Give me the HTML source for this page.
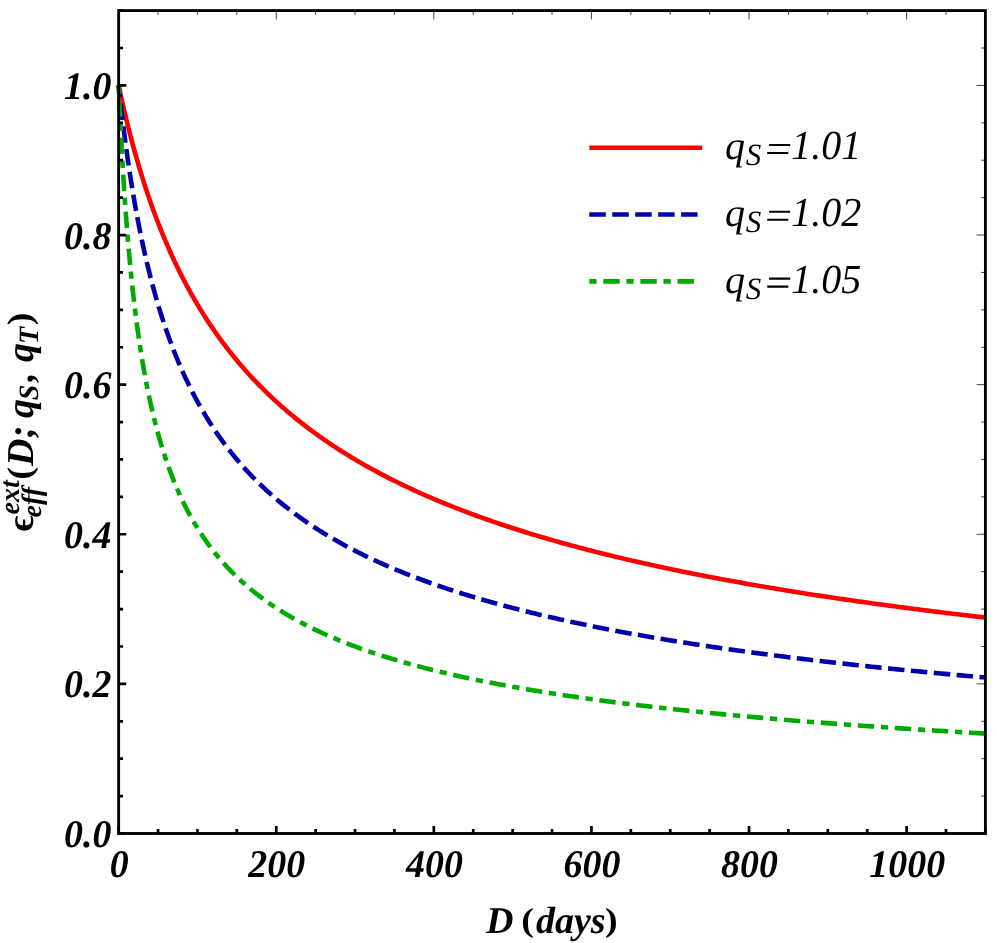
<!DOCTYPE html>
<html><head><meta charset="utf-8"><title>plot</title>
<style>html,body{margin:0;padding:0;background:#fff;overflow:hidden}svg{display:block}text{font-family:"Liberation Serif",serif;fill:#000;text-rendering:geometricPrecision}.bi{font-weight:bold;font-style:italic;font-size:38px}.b{font-weight:bold;font-style:normal;font-size:38px}.s{font-weight:bold;font-style:italic;font-size:28px}.it{font-style:italic;font-size:40px}.its{font-style:italic;font-size:31px}</style></head><body>
<svg width="997" height="943" viewBox="0 0 997 943">
<rect width="997" height="943" fill="#fff"/>
<g fill="none" stroke-width="4.60" stroke-linejoin="round">
<path d="M118.65 85.41 L118.65 85.43 L118.66 85.47 L118.68 85.56 L118.71 85.67 L118.74 85.82 L118.77 86.00 L118.82 86.21 L118.87 86.46 L118.93 86.74 L119.00 87.05 L119.07 87.39 L119.15 87.77 L119.24 88.18 L119.33 88.61 L119.43 89.08 L119.54 89.59 L119.65 90.12 L119.77 90.69 L119.90 91.28 L120.04 91.91 L120.18 92.56 L120.33 93.25 L120.48 93.97 L120.65 94.71 L120.82 95.49 L120.99 96.29 L121.18 97.13 L121.37 97.99 L121.57 98.88 L121.77 99.80 L121.98 100.74 L122.20 101.71 L122.43 102.71 L122.66 103.74 L122.90 104.79 L123.14 105.87 L123.40 106.97 L123.66 108.10 L123.92 109.25 L124.20 110.43 L124.48 111.63 L124.77 112.85 L125.06 114.10 L125.36 115.37 L125.67 116.66 L125.99 117.98 L126.31 119.31 L126.64 120.67 L126.97 122.05 L127.32 123.44 L127.67 124.86 L128.02 126.30 L128.39 127.75 L128.76 129.23 L129.14 130.72 L129.52 132.23 L129.91 133.76 L130.31 135.30 L130.72 136.86 L131.13 138.44 L131.55 140.03 L131.98 141.63 L132.41 143.26 L132.85 144.89 L133.30 146.54 L133.75 148.21 L134.21 149.88 L134.68 151.57 L135.16 153.27 L135.64 154.99 L136.13 156.71 L136.62 158.45 L137.13 160.19 L137.64 161.95 L138.15 163.72 L138.68 165.49 L139.21 167.28 L139.74 169.07 L140.29 170.88 L140.84 172.69 L141.40 174.51 L141.96 176.33 L142.53 178.17 L143.11 180.01 L143.70 181.85 L144.29 183.70 L144.89 185.56 L145.50 187.43 L146.11 189.29 L146.73 191.17 L147.36 193.04 L147.99 194.93 L148.64 196.81 L149.28 198.70 L149.94 200.59 L150.60 202.49 L151.27 204.38 L151.95 206.28 L152.63 208.19 L153.32 210.09 L154.02 212.00 L154.72 213.90 L155.43 215.81 L156.15 217.72 L156.87 219.63 L157.61 221.54 L158.34 223.45 L159.09 225.36 L159.84 227.27 L160.60 229.18 L161.37 231.09 L162.14 232.99 L162.92 234.90 L163.71 236.80 L164.50 238.71 L165.30 240.61 L166.11 242.51 L166.92 244.41 L167.75 246.30 L168.57 248.20 L169.41 250.09 L170.25 251.97 L171.10 253.86 L171.96 255.74 L172.82 257.62 L173.69 259.49 L174.57 261.37 L175.45 263.23 L176.34 265.10 L177.24 266.96 L178.15 268.82 L179.06 270.67 L179.98 272.52 L180.90 274.36 L181.84 276.20 L182.78 278.03 L183.72 279.87 L184.68 281.69 L185.64 283.51 L186.60 285.33 L187.58 287.14 L188.56 288.94 L189.55 290.74 L190.54 292.54 L191.54 294.33 L192.55 296.11 L193.57 297.89 L194.59 299.66 L195.62 301.43 L196.66 303.19 L197.70 304.95 L198.75 306.70 L199.81 308.44 L200.87 310.18 L201.94 311.91 L203.02 313.64 L204.11 315.36 L205.20 317.07 L206.30 318.78 L207.41 320.48 L208.52 322.18 L209.64 323.87 L210.76 325.55 L211.90 327.23 L213.04 328.90 L214.19 330.56 L215.34 332.22 L216.50 333.87 L217.67 335.51 L218.85 337.15 L220.03 338.78 L221.22 340.41 L222.41 342.02 L223.62 343.63 L224.83 345.24 L226.04 346.84 L227.27 348.43 L228.50 350.01 L229.74 351.59 L230.98 353.16 L232.23 354.73 L233.49 356.29 L234.76 357.84 L236.03 359.38 L237.31 360.92 L238.59 362.45 L239.89 363.98 L241.19 365.50 L242.49 367.01 L243.81 368.52 L245.13 370.01 L246.46 371.51 L247.79 372.99 L249.13 374.47 L250.48 375.94 L251.84 377.41 L253.20 378.87 L254.57 380.32 L255.95 381.76 L257.33 383.20 L258.72 384.63 L260.12 386.06 L261.52 387.48 L262.93 388.89 L264.35 390.30 L265.78 391.70 L267.21 393.09 L268.65 394.48 L270.09 395.86 L271.54 397.23 L273.00 398.60 L274.47 399.96 L275.94 401.32 L277.42 402.67 L278.91 404.01 L280.41 405.35 L281.91 406.68 L283.42 408.00 L284.93 409.32 L286.45 410.63 L287.98 411.93 L289.52 413.23 L291.06 414.52 L292.61 415.81 L294.17 417.09 L295.73 418.36 L297.30 419.63 L298.88 420.89 L300.46 422.15 L302.05 423.40 L303.65 424.65 L305.26 425.88 L306.87 427.12 L308.49 428.34 L310.12 429.56 L311.75 430.78 L313.39 431.99 L315.03 433.19 L316.69 434.39 L318.35 435.58 L320.02 436.77 L321.69 437.95 L323.37 439.12 L325.06 440.29 L326.76 441.45 L328.46 442.61 L330.17 443.76 L331.88 444.91 L333.61 446.05 L335.34 447.19 L337.07 448.32 L338.82 449.44 L340.57 450.56 L342.33 451.68 L344.09 452.79 L345.86 453.89 L347.64 454.99 L349.43 456.08 L351.22 457.17 L353.02 458.25 L354.83 459.33 L356.64 460.40 L358.46 461.47 L360.29 462.53 L362.12 463.59 L363.96 464.64 L365.81 465.69 L367.66 466.73 L369.53 467.77 L371.39 468.80 L373.27 469.83 L375.15 470.85 L377.04 471.87 L378.94 472.88 L380.84 473.89 L382.75 474.89 L384.67 475.89 L386.59 476.88 L388.52 477.87 L390.46 478.85 L392.41 479.83 L394.36 480.81 L396.32 481.78 L398.28 482.75 L400.26 483.71 L402.24 484.66 L404.22 485.62 L406.22 486.56 L408.22 487.51 L410.22 488.45 L412.24 489.38 L414.26 490.31 L416.29 491.24 L418.32 492.16 L420.37 493.08 L422.41 493.99 L424.47 494.90 L426.53 495.80 L428.60 496.70 L430.68 497.60 L432.76 498.49 L434.85 499.38 L436.95 500.26 L439.06 501.14 L441.17 502.02 L443.29 502.89 L445.41 503.75 L447.54 504.62 L449.68 505.48 L451.83 506.33 L453.98 507.18 L456.14 508.03 L458.31 508.88 L460.48 509.72 L462.66 510.55 L464.85 511.38 L467.05 512.21 L469.25 513.04 L471.46 513.86 L473.67 514.68 L475.89 515.49 L478.12 516.30 L480.36 517.10 L482.60 517.91 L484.85 518.71 L487.11 519.50 L489.37 520.29 L491.64 521.08 L493.92 521.87 L496.21 522.65 L498.50 523.42 L500.80 524.20 L503.10 524.97 L505.41 525.74 L507.73 526.50 L510.06 527.26 L512.39 528.02 L514.73 528.77 L517.08 529.52 L519.44 530.27 L521.80 531.01 L524.16 531.75 L526.54 532.49 L528.92 533.22 L531.31 533.95 L533.71 534.68 L536.11 535.41 L538.52 536.13 L540.93 536.85 L543.36 537.56 L545.79 538.27 L548.23 538.98 L550.67 539.69 L553.12 540.39 L555.58 541.09 L558.04 541.78 L560.52 542.48 L562.99 543.17 L565.48 543.85 L567.97 544.54 L570.47 545.22 L572.98 545.90 L575.49 546.57 L578.01 547.25 L580.54 547.92 L583.08 548.58 L585.62 549.25 L588.17 549.91 L590.72 550.57 L593.28 551.22 L595.85 551.88 L598.43 552.53 L601.01 553.17 L603.60 553.82 L606.20 554.46 L608.80 555.10 L611.41 555.74 L614.03 556.37 L616.65 557.00 L619.28 557.63 L621.92 558.26 L624.57 558.88 L627.22 559.50 L629.88 560.12 L632.55 560.73 L635.22 561.35 L637.90 561.96 L640.59 562.57 L643.28 563.17 L645.98 563.77 L648.69 564.37 L651.40 564.97 L654.12 565.57 L656.85 566.16 L659.59 566.75 L662.33 567.34 L665.08 567.93 L667.84 568.51 L670.60 569.09 L673.37 569.67 L676.15 570.25 L678.93 570.82 L681.72 571.39 L684.52 571.96 L687.32 572.53 L690.14 573.09 L692.96 573.65 L695.78 574.21 L698.61 574.77 L701.45 575.33 L704.30 575.88 L707.15 576.43 L710.01 576.98 L712.88 577.53 L715.75 578.07 L718.64 578.62 L721.52 579.16 L724.42 579.70 L727.32 580.23 L730.23 580.77 L733.14 581.30 L736.07 581.83 L739.00 582.36 L741.93 582.88 L744.88 583.41 L747.83 583.93 L750.78 584.45 L753.75 584.96 L756.72 585.48 L759.70 585.99 L762.68 586.51 L765.68 587.02 L768.67 587.52 L771.68 588.03 L774.69 588.53 L777.71 589.03 L780.74 589.53 L783.77 590.03 L786.81 590.53 L789.86 591.02 L792.92 591.51 L795.98 592.00 L799.05 592.49 L802.12 592.98 L805.20 593.46 L808.29 593.95 L811.39 594.43 L814.49 594.91 L817.60 595.39 L820.72 595.86 L823.84 596.33 L826.97 596.81 L830.11 597.28 L833.25 597.75 L836.41 598.21 L839.56 598.68 L842.73 599.14 L845.90 599.60 L849.08 600.06 L852.27 600.52 L855.46 600.98 L858.66 601.43 L861.87 601.89 L865.08 602.34 L868.30 602.79 L871.53 603.23 L874.76 603.68 L878.01 604.13 L881.25 604.57 L884.51 605.01 L887.77 605.45 L891.04 605.89 L894.32 606.33 L897.60 606.76 L900.89 607.20 L904.19 607.63 L907.49 608.06 L910.80 608.49 L914.12 608.91 L917.45 609.34 L920.78 609.76 L924.12 610.19 L927.46 610.61 L930.82 611.03 L934.18 611.45 L937.54 611.86 L940.91 612.28 L944.30 612.69 L947.68 613.10 L951.08 613.52 L954.48 613.92 L957.89 614.33 L961.30 614.74 L964.72 615.14 L968.15 615.55 L971.59 615.95 L975.03 616.35 L978.48 616.75 L981.94 617.15 L985.40 617.54" stroke="#ff0000"/>
<path d="M118.65 85.41 L118.65 85.44 L118.66 85.54 L118.68 85.71 L118.71 85.94 L118.74 86.23 L118.77 86.59 L118.82 87.02 L118.87 87.51 L118.93 88.06 L119.00 88.68 L119.07 89.36 L119.15 90.10 L119.24 90.91 L119.33 91.78 L119.43 92.71 L119.54 93.70 L119.65 94.74 L119.77 95.85 L119.90 97.02 L120.04 98.24 L120.18 99.52 L120.33 100.85 L120.48 102.24 L120.65 103.68 L120.82 105.17 L120.99 106.71 L121.18 108.31 L121.37 109.95 L121.57 111.64 L121.77 113.38 L121.98 115.17 L122.20 117.00 L122.43 118.87 L122.66 120.78 L122.90 122.74 L123.14 124.73 L123.40 126.77 L123.66 128.84 L123.92 130.95 L124.20 133.09 L124.48 135.27 L124.77 137.48 L125.06 139.73 L125.36 142.00 L125.67 144.30 L125.99 146.63 L126.31 148.99 L126.64 151.37 L126.97 153.78 L127.32 156.21 L127.67 158.66 L128.02 161.14 L128.39 163.63 L128.76 166.15 L129.14 168.68 L129.52 171.23 L129.91 173.80 L130.31 176.38 L130.72 178.97 L131.13 181.58 L131.55 184.20 L131.98 186.83 L132.41 189.47 L132.85 192.12 L133.30 194.78 L133.75 197.45 L134.21 200.12 L134.68 202.80 L135.16 205.49 L135.64 208.18 L136.13 210.87 L136.62 213.57 L137.13 216.26 L137.64 218.96 L138.15 221.67 L138.68 224.37 L139.21 227.07 L139.74 229.77 L140.29 232.47 L140.84 235.16 L141.40 237.85 L141.96 240.54 L142.53 243.23 L143.11 245.91 L143.70 248.59 L144.29 251.26 L144.89 253.93 L145.50 256.59 L146.11 259.24 L146.73 261.89 L147.36 264.53 L147.99 267.16 L148.64 269.78 L149.28 272.40 L149.94 275.01 L150.60 277.60 L151.27 280.19 L151.95 282.77 L152.63 285.34 L153.32 287.90 L154.02 290.45 L154.72 292.99 L155.43 295.51 L156.15 298.03 L156.87 300.53 L157.61 303.03 L158.34 305.51 L159.09 307.98 L159.84 310.44 L160.60 312.89 L161.37 315.32 L162.14 317.74 L162.92 320.15 L163.71 322.55 L164.50 324.94 L165.30 327.31 L166.11 329.67 L166.92 332.01 L167.75 334.35 L168.57 336.67 L169.41 338.98 L170.25 341.27 L171.10 343.55 L171.96 345.82 L172.82 348.07 L173.69 350.32 L174.57 352.54 L175.45 354.76 L176.34 356.96 L177.24 359.15 L178.15 361.33 L179.06 363.49 L179.98 365.64 L180.90 367.77 L181.84 369.89 L182.78 372.00 L183.72 374.10 L184.68 376.18 L185.64 378.25 L186.60 380.30 L187.58 382.35 L188.56 384.37 L189.55 386.39 L190.54 388.39 L191.54 390.38 L192.55 392.36 L193.57 394.33 L194.59 396.28 L195.62 398.22 L196.66 400.14 L197.70 402.06 L198.75 403.96 L199.81 405.84 L200.87 407.72 L201.94 409.58 L203.02 411.43 L204.11 413.27 L205.20 415.10 L206.30 416.91 L207.41 418.71 L208.52 420.50 L209.64 422.28 L210.76 424.04 L211.90 425.80 L213.04 427.54 L214.19 429.27 L215.34 430.99 L216.50 432.69 L217.67 434.39 L218.85 436.07 L220.03 437.75 L221.22 439.41 L222.41 441.06 L223.62 442.70 L224.83 444.32 L226.04 445.94 L227.27 447.55 L228.50 449.14 L229.74 450.72 L230.98 452.30 L232.23 453.86 L233.49 455.41 L234.76 456.95 L236.03 458.48 L237.31 460.01 L238.59 461.52 L239.89 463.02 L241.19 464.51 L242.49 465.99 L243.81 467.46 L245.13 468.92 L246.46 470.37 L247.79 471.81 L249.13 473.24 L250.48 474.66 L251.84 476.07 L253.20 477.48 L254.57 478.87 L255.95 480.25 L257.33 481.63 L258.72 482.99 L260.12 484.35 L261.52 485.70 L262.93 487.04 L264.35 488.37 L265.78 489.69 L267.21 491.00 L268.65 492.30 L270.09 493.60 L271.54 494.88 L273.00 496.16 L274.47 497.43 L275.94 498.69 L277.42 499.94 L278.91 501.19 L280.41 502.43 L281.91 503.65 L283.42 504.87 L284.93 506.09 L286.45 507.29 L287.98 508.49 L289.52 509.68 L291.06 510.86 L292.61 512.03 L294.17 513.20 L295.73 514.36 L297.30 515.51 L298.88 516.65 L300.46 517.79 L302.05 518.92 L303.65 520.04 L305.26 521.16 L306.87 522.27 L308.49 523.37 L310.12 524.46 L311.75 525.55 L313.39 526.63 L315.03 527.70 L316.69 528.77 L318.35 529.83 L320.02 530.88 L321.69 531.93 L323.37 532.97 L325.06 534.00 L326.76 535.03 L328.46 536.05 L330.17 537.07 L331.88 538.08 L333.61 539.08 L335.34 540.07 L337.07 541.06 L338.82 542.05 L340.57 543.03 L342.33 544.00 L344.09 544.96 L345.86 545.93 L347.64 546.88 L349.43 547.83 L351.22 548.77 L353.02 549.71 L354.83 550.64 L356.64 551.57 L358.46 552.49 L360.29 553.40 L362.12 554.31 L363.96 555.22 L365.81 556.11 L367.66 557.01 L369.53 557.90 L371.39 558.78 L373.27 559.66 L375.15 560.53 L377.04 561.40 L378.94 562.26 L380.84 563.12 L382.75 563.97 L384.67 564.82 L386.59 565.66 L388.52 566.50 L390.46 567.33 L392.41 568.16 L394.36 568.98 L396.32 569.80 L398.28 570.61 L400.26 571.42 L402.24 572.22 L404.22 573.02 L406.22 573.82 L408.22 574.61 L410.22 575.40 L412.24 576.18 L414.26 576.96 L416.29 577.73 L418.32 578.50 L420.37 579.26 L422.41 580.02 L424.47 580.78 L426.53 581.53 L428.60 582.28 L430.68 583.02 L432.76 583.76 L434.85 584.50 L436.95 585.23 L439.06 585.95 L441.17 586.68 L443.29 587.40 L445.41 588.11 L447.54 588.82 L449.68 589.53 L451.83 590.23 L453.98 590.93 L456.14 591.63 L458.31 592.32 L460.48 593.01 L462.66 593.70 L464.85 594.38 L467.05 595.05 L469.25 595.73 L471.46 596.40 L473.67 597.07 L475.89 597.73 L478.12 598.39 L480.36 599.04 L482.60 599.70 L484.85 600.35 L487.11 600.99 L489.37 601.64 L491.64 602.27 L493.92 602.91 L496.21 603.54 L498.50 604.17 L500.80 604.80 L503.10 605.42 L505.41 606.04 L507.73 606.66 L510.06 607.27 L512.39 607.88 L514.73 608.49 L517.08 609.09 L519.44 609.69 L521.80 610.29 L524.16 610.89 L526.54 611.48 L528.92 612.07 L531.31 612.65 L533.71 613.24 L536.11 613.81 L538.52 614.39 L540.93 614.97 L543.36 615.54 L545.79 616.11 L548.23 616.67 L550.67 617.23 L553.12 617.79 L555.58 618.35 L558.04 618.91 L560.52 619.46 L562.99 620.01 L565.48 620.55 L567.97 621.10 L570.47 621.64 L572.98 622.18 L575.49 622.71 L578.01 623.25 L580.54 623.78 L583.08 624.31 L585.62 624.83 L588.17 625.35 L590.72 625.87 L593.28 626.39 L595.85 626.91 L598.43 627.42 L601.01 627.93 L603.60 628.44 L606.20 628.95 L608.80 629.45 L611.41 629.95 L614.03 630.45 L616.65 630.95 L619.28 631.44 L621.92 631.93 L624.57 632.42 L627.22 632.91 L629.88 633.39 L632.55 633.88 L635.22 634.36 L637.90 634.84 L640.59 635.31 L643.28 635.78 L645.98 636.26 L648.69 636.73 L651.40 637.19 L654.12 637.66 L656.85 638.12 L659.59 638.58 L662.33 639.04 L665.08 639.50 L667.84 639.95 L670.60 640.41 L673.37 640.86 L676.15 641.31 L678.93 641.75 L681.72 642.20 L684.52 642.64 L687.32 643.08 L690.14 643.52 L692.96 643.96 L695.78 644.39 L698.61 644.82 L701.45 645.25 L704.30 645.68 L707.15 646.11 L710.01 646.54 L712.88 646.96 L715.75 647.38 L718.64 647.80 L721.52 648.22 L724.42 648.64 L727.32 649.05 L730.23 649.46 L733.14 649.87 L736.07 650.28 L739.00 650.69 L741.93 651.09 L744.88 651.50 L747.83 651.90 L750.78 652.30 L753.75 652.70 L756.72 653.10 L759.70 653.49 L762.68 653.89 L765.68 654.28 L768.67 654.67 L771.68 655.06 L774.69 655.44 L777.71 655.83 L780.74 656.21 L783.77 656.59 L786.81 656.97 L789.86 657.35 L792.92 657.73 L795.98 658.11 L799.05 658.48 L802.12 658.85 L805.20 659.22 L808.29 659.59 L811.39 659.96 L814.49 660.33 L817.60 660.69 L820.72 661.06 L823.84 661.42 L826.97 661.78 L830.11 662.14 L833.25 662.50 L836.41 662.85 L839.56 663.21 L842.73 663.56 L845.90 663.91 L849.08 664.26 L852.27 664.61 L855.46 664.96 L858.66 665.31 L861.87 665.65 L865.08 666.00 L868.30 666.34 L871.53 666.68 L874.76 667.02 L878.01 667.36 L881.25 667.69 L884.51 668.03 L887.77 668.36 L891.04 668.70 L894.32 669.03 L897.60 669.36 L900.89 669.69 L904.19 670.01 L907.49 670.34 L910.80 670.67 L914.12 670.99 L917.45 671.31 L920.78 671.63 L924.12 671.95 L927.46 672.27 L930.82 672.59 L934.18 672.91 L937.54 673.22 L940.91 673.54 L944.30 673.85 L947.68 674.16 L951.08 674.47 L954.48 674.78 L957.89 675.09 L961.30 675.40 L964.72 675.70 L968.15 676.01 L971.59 676.31 L975.03 676.61 L978.48 676.91 L981.94 677.21 L985.40 677.51" stroke="#0000aa" stroke-dasharray="16.5 6.45" stroke-dashoffset="4.63"/>
<path d="M118.65 85.41 L118.65 85.49 L118.66 85.74 L118.68 86.15 L118.71 86.72 L118.74 87.46 L118.77 88.35 L118.82 89.41 L118.87 90.62 L118.93 91.99 L119.00 93.50 L119.07 95.17 L119.15 96.98 L119.24 98.94 L119.33 101.03 L119.43 103.26 L119.54 105.63 L119.65 108.11 L119.77 110.73 L119.90 113.46 L120.04 116.30 L120.18 119.26 L120.33 122.31 L120.48 125.48 L120.65 128.73 L120.82 132.08 L120.99 135.51 L121.18 139.03 L121.37 142.62 L121.57 146.29 L121.77 150.02 L121.98 153.82 L122.20 157.67 L122.43 161.58 L122.66 165.54 L122.90 169.55 L123.14 173.59 L123.40 177.68 L123.66 181.80 L123.92 185.95 L124.20 190.12 L124.48 194.32 L124.77 198.54 L125.06 202.77 L125.36 207.02 L125.67 211.28 L125.99 215.54 L126.31 219.81 L126.64 224.08 L126.97 228.35 L127.32 232.62 L127.67 236.88 L128.02 241.13 L128.39 245.38 L128.76 249.61 L129.14 253.83 L129.52 258.03 L129.91 262.22 L130.31 266.39 L130.72 270.54 L131.13 274.66 L131.55 278.77 L131.98 282.85 L132.41 286.91 L132.85 290.94 L133.30 294.94 L133.75 298.92 L134.21 302.87 L134.68 306.79 L135.16 310.68 L135.64 314.54 L136.13 318.37 L136.62 322.17 L137.13 325.94 L137.64 329.68 L138.15 333.38 L138.68 337.05 L139.21 340.69 L139.74 344.30 L140.29 347.87 L140.84 351.41 L141.40 354.92 L141.96 358.39 L142.53 361.83 L143.11 365.24 L143.70 368.61 L144.29 371.95 L144.89 375.26 L145.50 378.54 L146.11 381.78 L146.73 384.99 L147.36 388.16 L147.99 391.31 L148.64 394.42 L149.28 397.50 L149.94 400.54 L150.60 403.56 L151.27 406.54 L151.95 409.49 L152.63 412.41 L153.32 415.30 L154.02 418.16 L154.72 420.99 L155.43 423.79 L156.15 426.56 L156.87 429.30 L157.61 432.01 L158.34 434.70 L159.09 437.35 L159.84 439.98 L160.60 442.57 L161.37 445.14 L162.14 447.69 L162.92 450.20 L163.71 452.69 L164.50 455.15 L165.30 457.59 L166.11 459.99 L166.92 462.38 L167.75 464.74 L168.57 467.07 L169.41 469.38 L170.25 471.66 L171.10 473.92 L171.96 476.16 L172.82 478.37 L173.69 480.56 L174.57 482.73 L175.45 484.87 L176.34 486.99 L177.24 489.09 L178.15 491.17 L179.06 493.22 L179.98 495.26 L180.90 497.27 L181.84 499.26 L182.78 501.23 L183.72 503.18 L184.68 505.11 L185.64 507.03 L186.60 508.92 L187.58 510.79 L188.56 512.64 L189.55 514.48 L190.54 516.29 L191.54 518.09 L192.55 519.87 L193.57 521.63 L194.59 523.38 L195.62 525.10 L196.66 526.81 L197.70 528.51 L198.75 530.18 L199.81 531.84 L200.87 533.48 L201.94 535.11 L203.02 536.72 L204.11 538.32 L205.20 539.90 L206.30 541.46 L207.41 543.01 L208.52 544.54 L209.64 546.06 L210.76 547.57 L211.90 549.06 L213.04 550.54 L214.19 552.00 L215.34 553.45 L216.50 554.88 L217.67 556.30 L218.85 557.71 L220.03 559.11 L221.22 560.49 L222.41 561.86 L223.62 563.22 L224.83 564.56 L226.04 565.89 L227.27 567.21 L228.50 568.52 L229.74 569.82 L230.98 571.10 L232.23 572.37 L233.49 573.63 L234.76 574.88 L236.03 576.12 L237.31 577.35 L238.59 578.57 L239.89 579.77 L241.19 580.97 L242.49 582.15 L243.81 583.33 L245.13 584.49 L246.46 585.65 L247.79 586.79 L249.13 587.93 L250.48 589.05 L251.84 590.17 L253.20 591.27 L254.57 592.37 L255.95 593.45 L257.33 594.53 L258.72 595.60 L260.12 596.66 L261.52 597.71 L262.93 598.75 L264.35 599.78 L265.78 600.81 L267.21 601.82 L268.65 602.83 L270.09 603.83 L271.54 604.82 L273.00 605.81 L274.47 606.78 L275.94 607.75 L277.42 608.71 L278.91 609.66 L280.41 610.60 L281.91 611.54 L283.42 612.47 L284.93 613.39 L286.45 614.31 L287.98 615.21 L289.52 616.11 L291.06 617.01 L292.61 617.89 L294.17 618.77 L295.73 619.64 L297.30 620.51 L298.88 621.37 L300.46 622.22 L302.05 623.07 L303.65 623.91 L305.26 624.74 L306.87 625.57 L308.49 626.39 L310.12 627.20 L311.75 628.01 L313.39 628.81 L315.03 629.61 L316.69 630.40 L318.35 631.18 L320.02 631.96 L321.69 632.73 L323.37 633.50 L325.06 634.26 L326.76 635.02 L328.46 635.77 L330.17 636.51 L331.88 637.25 L333.61 637.98 L335.34 638.71 L337.07 639.44 L338.82 640.16 L340.57 640.87 L342.33 641.58 L344.09 642.28 L345.86 642.98 L347.64 643.67 L349.43 644.36 L351.22 645.05 L353.02 645.72 L354.83 646.40 L356.64 647.07 L358.46 647.73 L360.29 648.39 L362.12 649.05 L363.96 649.70 L365.81 650.35 L367.66 650.99 L369.53 651.63 L371.39 652.26 L373.27 652.89 L375.15 653.52 L377.04 654.14 L378.94 654.76 L380.84 655.37 L382.75 655.98 L384.67 656.58 L386.59 657.19 L388.52 657.78 L390.46 658.38 L392.41 658.96 L394.36 659.55 L396.32 660.13 L398.28 660.71 L400.26 661.28 L402.24 661.85 L404.22 662.42 L406.22 662.98 L408.22 663.54 L410.22 664.10 L412.24 664.65 L414.26 665.20 L416.29 665.75 L418.32 666.29 L420.37 666.83 L422.41 667.36 L424.47 667.89 L426.53 668.42 L428.60 668.95 L430.68 669.47 L432.76 669.99 L434.85 670.50 L436.95 671.02 L439.06 671.53 L441.17 672.03 L443.29 672.54 L445.41 673.04 L447.54 673.53 L449.68 674.03 L451.83 674.52 L453.98 675.01 L456.14 675.49 L458.31 675.97 L460.48 676.45 L462.66 676.93 L464.85 677.40 L467.05 677.88 L469.25 678.34 L471.46 678.81 L473.67 679.27 L475.89 679.73 L478.12 680.19 L480.36 680.64 L482.60 681.10 L484.85 681.55 L487.11 681.99 L489.37 682.44 L491.64 682.88 L493.92 683.32 L496.21 683.76 L498.50 684.19 L500.80 684.62 L503.10 685.05 L505.41 685.48 L507.73 685.90 L510.06 686.33 L512.39 686.75 L514.73 687.16 L517.08 687.58 L519.44 687.99 L521.80 688.40 L524.16 688.81 L526.54 689.22 L528.92 689.62 L531.31 690.02 L533.71 690.42 L536.11 690.82 L538.52 691.21 L540.93 691.61 L543.36 692.00 L545.79 692.39 L548.23 692.77 L550.67 693.16 L553.12 693.54 L555.58 693.92 L558.04 694.30 L560.52 694.68 L562.99 695.05 L565.48 695.42 L567.97 695.79 L570.47 696.16 L572.98 696.53 L575.49 696.89 L578.01 697.26 L580.54 697.62 L583.08 697.98 L585.62 698.33 L588.17 698.69 L590.72 699.04 L593.28 699.39 L595.85 699.74 L598.43 700.09 L601.01 700.44 L603.60 700.78 L606.20 701.13 L608.80 701.47 L611.41 701.81 L614.03 702.14 L616.65 702.48 L619.28 702.81 L621.92 703.15 L624.57 703.48 L627.22 703.81 L629.88 704.13 L632.55 704.46 L635.22 704.78 L637.90 705.11 L640.59 705.43 L643.28 705.75 L645.98 706.07 L648.69 706.38 L651.40 706.70 L654.12 707.01 L656.85 707.32 L659.59 707.63 L662.33 707.94 L665.08 708.25 L667.84 708.56 L670.60 708.86 L673.37 709.16 L676.15 709.46 L678.93 709.76 L681.72 710.06 L684.52 710.36 L687.32 710.66 L690.14 710.95 L692.96 711.24 L695.78 711.54 L698.61 711.83 L701.45 712.11 L704.30 712.40 L707.15 712.69 L710.01 712.97 L712.88 713.26 L715.75 713.54 L718.64 713.82 L721.52 714.10 L724.42 714.38 L727.32 714.66 L730.23 714.93 L733.14 715.21 L736.07 715.48 L739.00 715.75 L741.93 716.02 L744.88 716.29 L747.83 716.56 L750.78 716.83 L753.75 717.09 L756.72 717.36 L759.70 717.62 L762.68 717.88 L765.68 718.15 L768.67 718.41 L771.68 718.66 L774.69 718.92 L777.71 719.18 L780.74 719.43 L783.77 719.69 L786.81 719.94 L789.86 720.19 L792.92 720.45 L795.98 720.70 L799.05 720.94 L802.12 721.19 L805.20 721.44 L808.29 721.68 L811.39 721.93 L814.49 722.17 L817.60 722.42 L820.72 722.66 L823.84 722.90 L826.97 723.14 L830.11 723.37 L833.25 723.61 L836.41 723.85 L839.56 724.08 L842.73 724.32 L845.90 724.55 L849.08 724.78 L852.27 725.01 L855.46 725.25 L858.66 725.47 L861.87 725.70 L865.08 725.93 L868.30 726.16 L871.53 726.38 L874.76 726.61 L878.01 726.83 L881.25 727.05 L884.51 727.28 L887.77 727.50 L891.04 727.72 L894.32 727.94 L897.60 728.15 L900.89 728.37 L904.19 728.59 L907.49 728.80 L910.80 729.02 L914.12 729.23 L917.45 729.45 L920.78 729.66 L924.12 729.87 L927.46 730.08 L930.82 730.29 L934.18 730.50 L937.54 730.71 L940.91 730.91 L944.30 731.12 L947.68 731.32 L951.08 731.53 L954.48 731.73 L957.89 731.94 L961.30 732.14 L964.72 732.34 L968.15 732.54 L971.59 732.74 L975.03 732.94 L978.48 733.14 L981.94 733.34 L985.40 733.53" stroke="#00aa00" stroke-dasharray="7.3 6.7 16.4 6.7" stroke-dashoffset="36.00"/>
</g>
<path d="M118.65 833.50V825.90M158.05 833.50V829.10M197.45 833.50V829.10M236.84 833.50V829.10M276.24 833.50V825.90M315.64 833.50V829.10M355.04 833.50V829.10M394.43 833.50V829.10M433.83 833.50V825.90M473.23 833.50V829.10M512.63 833.50V829.10M552.02 833.50V829.10M591.42 833.50V825.90M630.82 833.50V829.10M670.22 833.50V829.10M709.62 833.50V829.10M749.01 833.50V825.90M788.41 833.50V829.10M827.81 833.50V829.10M867.21 833.50V829.10M906.60 833.50V825.90M946.00 833.50V829.10M985.40 833.50V829.10M118.65 833.50H126.25M118.65 796.10H123.05M118.65 758.69H123.05M118.65 721.29H123.05M118.65 683.88H126.25M118.65 646.48H123.05M118.65 609.07H123.05M118.65 571.67H123.05M118.65 534.26H126.25M118.65 496.86H123.05M118.65 459.45H123.05M118.65 422.05H123.05M118.65 384.65H126.25M118.65 347.24H123.05M118.65 309.84H123.05M118.65 272.43H123.05M118.65 235.03H126.25M118.65 197.62H123.05M118.65 160.22H123.05M118.65 122.81H123.05M118.65 85.41H126.25M118.65 48.00H123.05M118.65 10.60H123.05" stroke="#000" stroke-width="2.70" fill="none"/>
<path d="M118.65 10.60V19.40M158.05 10.60V14.80M197.45 10.60V14.80M236.84 10.60V14.80M276.24 10.60V19.40M315.64 10.60V14.80M355.04 10.60V14.80M394.43 10.60V14.80M433.83 10.60V19.40M473.23 10.60V14.80M512.63 10.60V14.80M552.02 10.60V14.80M591.42 10.60V19.40M630.82 10.60V14.80M670.22 10.60V14.80M709.62 10.60V14.80M749.01 10.60V19.40M788.41 10.60V14.80M827.81 10.60V14.80M867.21 10.60V14.80M906.60 10.60V19.40M946.00 10.60V14.80M985.40 10.60V14.80M985.40 833.50H976.60M985.40 796.10H981.20M985.40 758.69H981.20M985.40 721.29H981.20M985.40 683.88H976.60M985.40 646.48H981.20M985.40 609.07H981.20M985.40 571.67H981.20M985.40 534.26H976.60M985.40 496.86H981.20M985.40 459.45H981.20M985.40 422.05H981.20M985.40 384.65H976.60M985.40 347.24H981.20M985.40 309.84H981.20M985.40 272.43H981.20M985.40 235.03H976.60M985.40 197.62H981.20M985.40 160.22H981.20M985.40 122.81H981.20M985.40 85.41H976.60M985.40 48.00H981.20M985.40 10.60H981.20" stroke="#000" stroke-width="0.75" fill="none"/>
<rect x="118.65" y="10.60" width="866.75" height="822.90" fill="none" stroke="#000" stroke-width="2.85"/>
<g opacity="0.999">
<text class="bi" transform="translate(119.25,876.60) scale(1,1.030)" text-anchor="middle">0</text>
<text class="bi" transform="translate(276.84,876.60) scale(1,1.030)" text-anchor="middle">200</text>
<text class="bi" transform="translate(434.43,876.60) scale(1,1.030)" text-anchor="middle">400</text>
<text class="bi" transform="translate(592.02,876.60) scale(1,1.030)" text-anchor="middle">600</text>
<text class="bi" transform="translate(749.61,876.60) scale(1,1.030)" text-anchor="middle">800</text>
<text class="bi" transform="translate(907.20,876.60) scale(1,1.030)" text-anchor="middle">1000</text>
<text class="bi" transform="translate(111.40,847.10) scale(1,1.030)" text-anchor="end">0.0</text>
<text class="bi" transform="translate(111.40,697.48) scale(1,1.030)" text-anchor="end">0.2</text>
<text class="bi" transform="translate(111.40,547.86) scale(1,1.030)" text-anchor="end">0.4</text>
<text class="bi" transform="translate(111.40,398.25) scale(1,1.030)" text-anchor="end">0.6</text>
<text class="bi" transform="translate(111.40,248.63) scale(1,1.030)" text-anchor="end">0.8</text>
<text class="bi" transform="translate(111.40,99.01) scale(1,1.030)" text-anchor="end">1.0</text>
<text class="bi" x="486" y="932.7">D</text>
<text class="b" transform="translate(521.33,931.10) scale(1,0.873)">(</text>
<text class="bi" x="535.9" y="932.7">days</text>
<text class="b" transform="translate(605.08,931.10) scale(1,0.873)">)</text>
<text class="b" transform="translate(33.10,531.40) rotate(-90)">ϵ</text>
<text class="s" transform="translate(18.60,514.50) rotate(-90)">ext</text>
<text class="s" transform="translate(40.60,517.50) rotate(-90)">eff</text>
<text class="b" transform="translate(30.90,479.67) rotate(-90) scale(1,0.904)">(</text>
<text class="bi" transform="translate(33.10,466.10) rotate(-90)">D</text>
<text class="bi" transform="translate(33.10,438.30) rotate(-90)">;</text>
<text class="bi" transform="translate(33.10,418.10) rotate(-90)">q</text>
<text class="s" transform="translate(38.30,400.30) rotate(-90)">S</text>
<text class="bi" transform="translate(33.10,381.80) rotate(-90)">,</text>
<text class="bi" transform="translate(33.10,362.10) rotate(-90)">q</text>
<text class="s" transform="translate(38.30,343.90) rotate(-90)">T</text>
<text class="b" transform="translate(30.90,325.32) rotate(-90) scale(1,0.904)">)</text>
<g fill="none" stroke-width="4.60">
<path d="M589.3 147.7H702.2" stroke="#ff0000"/>
<path d="M589.3 214.5H702.2" stroke="#0000aa" stroke-dasharray="16.5 6.45"/>
<path d="M589.3 281.4H699" stroke="#00aa00" stroke-dasharray="7.3 6.7 16.4 6.7"/>
</g>
<text class="it" x="725.0" y="159.3">q</text>
<text class="its" x="745.7" y="165.2">S</text>
<path d="M769.1 143.90h21.1v2.1h-21.1zM767.2 151.90h21.1v2.1h-21.1z" fill="#000"/>
<text class="it" transform="translate(791.20,159.30) scale(1,1.030)" text-anchor="start">1.01</text>
<text class="it" x="725.0" y="226.1">q</text>
<text class="its" x="745.7" y="232.0">S</text>
<path d="M769.1 210.70h21.1v2.1h-21.1zM767.2 218.70h21.1v2.1h-21.1z" fill="#000"/>
<text class="it" transform="translate(791.20,226.10) scale(1,1.030)" text-anchor="start">1.02</text>
<text class="it" x="725.0" y="293.0">q</text>
<text class="its" x="745.7" y="298.9">S</text>
<path d="M769.1 277.60h21.1v2.1h-21.1zM767.2 285.60h21.1v2.1h-21.1z" fill="#000"/>
<text class="it" transform="translate(791.20,293.00) scale(1,1.030)" text-anchor="start">1.05</text>
</g>
</svg></body></html>
